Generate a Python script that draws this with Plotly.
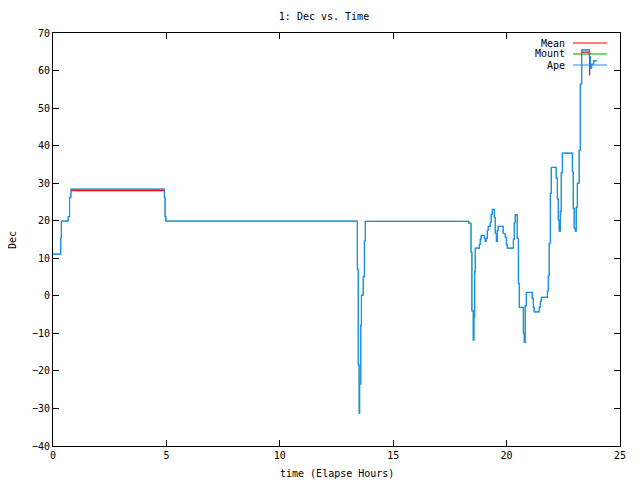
import plotly.graph_objects as go

# Ape series (step data: value holds from its time until the next time)
ape_time = [0.00, 0.34, 0.37, 0.67, 0.73, 0.79, 4.91, 4.94, 4.98,
            13.42, 13.46, 13.50, 13.52, 13.57, 13.60, 13.68, 13.73, 13.77,
            18.34, 18.43, 18.47, 18.53, 18.56, 18.59, 18.62, 18.80, 18.84, 18.88,
            19.02, 19.06, 19.10, 19.15, 19.19, 19.28, 19.32, 19.37, 19.46, 19.50,
            19.55, 19.59, 19.63, 19.85, 19.94, 19.99, 20.03, 20.30, 20.34, 20.38,
            20.47, 20.52, 20.56, 20.74, 20.78, 20.82, 20.87, 21.13, 21.18, 21.22,
            21.44, 21.49, 21.53, 21.80, 21.84, 21.88, 21.93, 21.97, 22.19, 22.24,
            22.28, 22.32, 22.37, 22.41, 22.46, 22.90, 22.94, 22.98, 23.03, 23.07,
            23.12, 23.20, 23.25, 23.31, 23.65, 23.69, 23.75, 23.84, 23.97]
ape_dec = [11.1, 15.4, 19.9, 21.1, 26.2, 28.4, 26.2, 21.0, 19.9,
           7.1, -18.4, -31.3, -23.5, -7.8, 0.2, 5.1, 14.6, 19.85,
           19.3, 11.6, -4.0, -11.8, -5.6, 6.4, 12.7, 13.7, 15.1, 16.1,
           15.3, 14.5, 15.3, 17.4, 18.5, 19.6, 21.7, 23.0, 20.9, 16.6,
           14.5, 17.4, 18.5, 16.6, 15.6, 13.7, 12.7, 15.1, 19.4, 21.6,
           15.3, 3.3, -3.1, -10.0, -12.4, -2.7, 0.9, -0.7, -3.1, -4.3,
           -3.1, -1.5, -0.4, 1.2, 5.4, 14.0, 27.3, 34.2, 31.3, 25.8,
           20.2, 17.2, 22.5, 32.8, 38.0, 33.1, 23.3, 18.0, 17.2, 23.6,
           30.0, 38.8, 56.4, 65.5, 63.7, 60.6, 61.7, 62.6, 62.6]

# Mount series (same track as Ape, drawn underneath)
mount_time = ape_time
mount_dec = ape_dec

# Mean series
mean_time = [0.79, 4.91, 23.31, 23.62, 23.66, 23.67]
mean_dec = [28.0, 28.0, 64.9, 64.9, 58.8, 58.8]
mean_seg = [0, 0, 1, 1, 1, 1]

x_ticks = [0, 5, 10, 15, 20, 25]
y_ticks = [-40, -30, -20, -10, 0, 10, 20, 30, 40, 50, 60, 70]

FONT = "DejaVu Sans Mono"
RED, GREEN, BLUE = "#ff0000", "#00a000", "#1a8cff"
# page has an 8px body margin: figure is 632x472 placed at (8,8)
W, H = 632, 472
ML, MR, MT, MB = 45, 20, 25, 34
PW, PH = W - ML - MR, H - MT - MB

fig = go.Figure()

fig.add_trace(go.Scatter(x=mount_time, y=mount_dec, mode="lines", line=dict(color=GREEN, width=0.8, shape="hv"),
                         showlegend=False))
for s in sorted(set(mean_seg)):
    xs = [t for t, g in zip(mean_time, mean_seg) if g == s]
    ys = [v for v, g in zip(mean_dec, mean_seg) if g == s]
    fig.add_trace(go.Scatter(x=xs, y=ys, mode="lines", line=dict(color=RED, width=1.2, shape="hv"),
                             showlegend=False, hoverinfo="skip"))
fig.add_trace(go.Scatter(x=ape_time, y=ape_dec, mode="lines", line=dict(color=BLUE, width=1.2, shape="hv"),
                         showlegend=False))

# gnuplot-style legend (text right aligned, line sample to the right); page pixel positions minus 8
legend_items = [("Mean", RED), ("Mount", GREEN), ("Ape", BLUE)]
for i, (name, col) in enumerate(legend_items):
    py = 43 + 11 * i - 8
    yy = 1 - (py - MT) / PH
    fig.add_annotation(xref="paper", yref="paper", x=(566 - 8 - ML) / PW, y=yy, text=name, showarrow=False,
                       xanchor="right", yanchor="middle", borderpad=0,
                       font=dict(family=FONT, size=10, color="black"))
    fig.add_shape(type="line", xref="paper", yref="paper", x0=(573 - 8 - ML) / PW, x1=(607 - 8 - ML) / PW,
                  y0=yy, y1=yy, line=dict(color=col, width=1.2))

# axis titles
fig.add_annotation(xref="paper", yref="paper", x=0.5, y=-(473 - 8 - (H - MB)) / PH, text="time (Elapse Hours)",
                   showarrow=False, xanchor="center", yanchor="middle", font=dict(family=FONT, size=10, color="black"))
fig.add_annotation(xref="paper", yref="paper", x=-(ML - (12 - 8)) / PW, y=1 - (240 - 8 - MT) / PH, text="Dec",
                   textangle=-90, showarrow=False, xanchor="center", yanchor="middle",
                   font=dict(family=FONT, size=10, color="black"))

axis_common = dict(showline=True, linecolor="black", linewidth=1, mirror="ticks", ticks="inside",
                   ticklen=6, tickcolor="black", showgrid=False, zeroline=False, automargin=False,
                   tickfont=dict(family=FONT, size=10, color="black"))
fig.update_xaxes(range=[0, 25], tickvals=x_ticks, **axis_common)
fig.update_yaxes(range=[-40, 70], tickvals=y_ticks, **axis_common)

fig.update_layout(
    width=W, height=H,
    margin=dict(l=ML, r=MR, t=MT, b=MB, autoexpand=False),
    paper_bgcolor="white", plot_bgcolor="white",
    title=dict(text="1: Dec vs. Time", x=0.5, xanchor="center", y=1 - (16 - 8) / H, yanchor="middle",
               font=dict(family=FONT, size=10, color="black")),
    showlegend=False,
)

fig.write_html("out.html")
